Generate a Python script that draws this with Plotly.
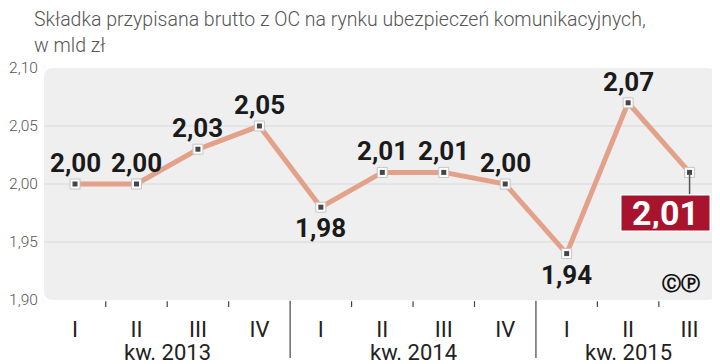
import plotly.graph_objects as go

quarters = ["I", "II", "III", "IV", "I", "II", "III", "IV", "I", "II", "III"]
years = ["kw. 2013", "kw. 2014", "kw. 2015"]
quarters_per_year = [4, 4, 3]
values = [2.00, 2.00, 2.03, 2.05, 1.98, 2.01, 2.01, 2.00, 1.94, 2.07, 2.01]
label_below = [False, False, False, False, True, False, False, False, True, False, False]
y_ticks = [1.90, 1.95, 2.00, 2.05, 2.10]
title_lines = ["Składka przypisana brutto z OC na rynku ubezpieczeń komunikacyjnych,", "w mld zł"]

x = list(range(len(values)))
FONT = "Roboto, DejaVu Sans Condensed, sans-serif"
LINE = "#e3a189"

fig = go.Figure()
fig.add_trace(go.Scatter(x=x, y=values, mode="lines", line=dict(color=LINE, width=5),
                         hoverinfo="skip", showlegend=False))
fig.add_trace(go.Scatter(x=x, y=values, mode="markers",
                         marker=dict(symbol="square", size=10, color="white",
                                     line=dict(color="#c4c4c4", width=1)),
                         hoverinfo="skip", showlegend=False))
fig.add_trace(go.Scatter(x=x, y=values, mode="markers",
                         marker=dict(symbol="square", size=5, color="#454545"),
                         showlegend=False))

def fmt(v):
    return f"{v:.2f}".replace(".", ",")

annotations = []
for i, v in enumerate(values[:-1]):
    annotations.append(dict(x=i, y=v, xref="x", yref="y", text=fmt(v), showarrow=False,
                            yanchor="middle", yshift=-21 if label_below[i] else 21,
                            font=dict(family=FONT, size=26, color="#1a1a1a", weight="bold")))

# highlighted last value
last = len(values) - 1
annotations.append(dict(x=last, y=values[last], xref="x", yref="y", text=fmt(values[last]),
                        showarrow=False, xshift=-24.5, yshift=-41, yanchor="middle",
                        bgcolor="#a8132e", bordercolor="white", borderwidth=1.5,
                        borderpad=2, width=84, height=31,
                        font=dict(family=FONT, size=34, color="white", weight="bold")))

# year labels
start = 0
for yr, n in zip(years, quarters_per_year):
    annotations.append(dict(x=start + (n - 1) / 2, y=-0.226, xref="x", yref="paper", text=yr,
                            showarrow=False, yanchor="middle",
                            font=dict(family=FONT, size=22, color="#222")))
    start += n

# title
for txt, yy in zip(title_lines, [1.211, 1.095]):
    annotations.append(dict(x=-0.0179, y=yy, xref="paper", yref="paper", text=txt,
                            showarrow=False, xanchor="left", yanchor="middle",
                            font=dict(family=FONT, size=19.5, color="#555", weight=300)))
annotations.append(dict(x=0.948, y=0.073, xref="paper", yref="paper", text="ⒸⓅ",
                        showarrow=False, yanchor="middle", xanchor="center",
                        font=dict(family="DejaVu Sans", size=19, color="#111", weight="bold")))

shapes = []
# rounded plot background
rx, ry = 9 / 672, 9 / 232
path = (f"M {rx},0 L {1-rx},0 Q 1,0 1,{ry} L 1,{1-ry} Q 1,1 {1-rx},1 "
        f"L {rx},1 Q 0,1 0,{1-ry} L 0,{ry} Q 0,0 {rx},0 Z")
shapes.append(dict(type="path", path=path, xref="paper", yref="paper",
                   fillcolor="#efefef", line=dict(width=0), layer="below"))
for t in y_ticks[1:-1]:
    shapes.append(dict(type="line", xref="paper", yref="y", x0=0, x1=1, y0=t, y1=t,
                       line=dict(color="#dadada", width=1.2), layer="below"))
# connector for highlighted value
shapes.append(dict(type="line", xref="x", yref="y", x0=last, x1=last, y0=0, y1=-22,
                   ysizemode="pixel", yanchor=values[last],
                   line=dict(color="#555", width=1.5)))
# x ticks between quarters and separators between years
boundaries = set()
acc = 0
for n in quarters_per_year[:-1]:
    acc += n
    boundaries.add(acc - 0.5)
for k in range(len(values) - 1):
    xb = k + 0.5
    if xb in boundaries:
        shapes.append(dict(type="line", xref="x", yref="paper", x0=xb, x1=xb, y0=-0.003, y1=-0.25,
                           line=dict(color="#444", width=1.2)))
    else:
        shapes.append(dict(type="line", xref="x", yref="paper", x0=xb, x1=xb, y0=-0.005, y1=-0.03,
                           line=dict(color="#444", width=1.2)))

fig.update_layout(
    width=712, height=356,
    margin=dict(l=36, r=4, t=60, b=64, autoexpand=False),
    paper_bgcolor="white", plot_bgcolor="rgba(0,0,0,0)",
    separators=",.",
    showlegend=False,
    annotations=annotations, shapes=shapes,
    xaxis=dict(range=[-0.505, 10.43], tickmode="array", tickvals=x, ticktext=quarters,
               showgrid=False, zeroline=False, showline=False, automargin=False,
               ticks="outside", ticklen=10, tickcolor="rgba(0,0,0,0)",
               tickfont=dict(family=FONT, size=22, color="#222"), fixedrange=True),
    yaxis=dict(range=[1.90, 2.10], tickmode="array", tickvals=y_ticks, tickformat=".2f",
               showgrid=False, zeroline=False, showline=False, automargin=False,
               ticks="outside", ticklen=2, tickcolor="rgba(0,0,0,0)",
               tickfont=dict(family=FONT, size=15.5, color="#555", weight=300), fixedrange=True),
)

fig.write_html("out.html")
